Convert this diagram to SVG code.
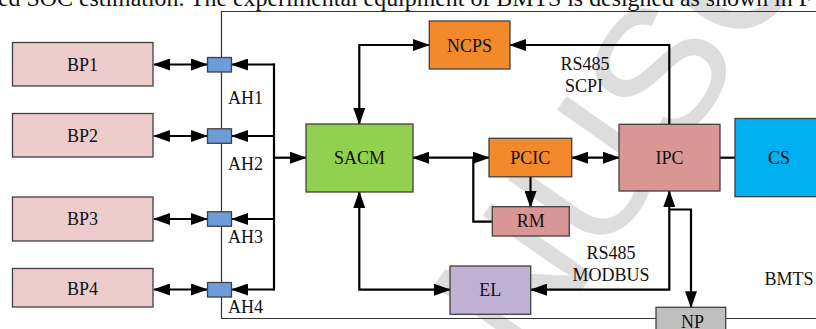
<svg xmlns="http://www.w3.org/2000/svg" width="816" height="329" viewBox="0 0 816 329">
<style>
text{font-family:"Liberation Serif","Times New Roman",serif;font-size:18px;fill:#111}
.c{text-anchor:middle}
.box{stroke:#404040;stroke-width:1.3}
.ln{fill:none;stroke:#000;stroke-width:2.2}
.arr{marker-end:url(#ah)}
.darr{marker-start:url(#ah);marker-end:url(#ah)}
.wm{font-family:"Liberation Sans",Arial,sans-serif;font-size:180px;fill:#dddddd}
</style>
<defs>
<marker id="ah" markerUnits="userSpaceOnUse" markerWidth="17" markerHeight="12" refX="16" refY="6" orient="auto-start-reverse">
<path d="M0,0 L17,6 L0,12 z" fill="#000"/>
</marker>
</defs>
<rect width="816" height="329" fill="#fff"/>
<text class="wm" transform="translate(372,590) rotate(-55)">MANUSCRIPT</text>
<text x="-2" y="5.5" style="font-size:24px" textLength="814" lengthAdjust="spacingAndGlyphs">ed SOC estimation. The experimental equipment of BMTS is designed as shown in F</text>
<g id="BMTS">
<path d="M221.5,318.5 V11.5 H817 M221.5,318.5 H817" fill="none" stroke="#333" stroke-width="1.2"/>
<text x="789" y="285" class="c">BMTS</text>
</g>
<g id="connectors">
<path class="ln darr" d="M154,64.5 H207"/>
<path class="ln darr" d="M154,136 H207"/>
<path class="ln darr" d="M154,219 H207"/>
<path class="ln darr" d="M154,289.5 H207"/>
<path class="ln" d="M274,63.4 V290.6"/>
<path class="ln arr" d="M274,64.5 H232"/>
<path class="ln arr" d="M274,136 H232"/>
<path class="ln arr" d="M274,219 H232"/>
<path class="ln arr" d="M274,289.5 H232"/>
<path class="ln arr" d="M274,157.7 H306"/>
<path class="ln darr" d="M429,45 H359.3 V124"/>
<path class="ln arr" d="M669.3,124 V45 H510"/>
<path class="ln darr" d="M413,157.7 H489"/>
<path class="ln" d="M492,221.7 H473.3 V157.7"/>
<path class="ln arr" d="M530.5,177 V207"/>
<path class="ln darr" d="M572,157.7 H619"/>
<path class="ln" d="M720,157.7 H735"/>
<path class="ln darr" d="M669.3,191 V289.7 H531"/>
<path class="ln arr" d="M669.3,209.5 H691 V307.3"/>
<path class="ln darr" d="M359.3,192 V289.7 H450"/>
</g>
<g id="BP1"><rect class="box" x="12.5" y="42.5" width="140.5" height="43.5" fill="#EDCCCB"/><text x="82.5" y="70.5" class="c">BP1</text></g>
<g id="BP2"><rect class="box" x="12.5" y="113.5" width="140.5" height="43.5" fill="#EDCCCB"/><text x="82.5" y="141.5" class="c">BP2</text></g>
<g id="BP3"><rect class="box" x="12.5" y="197" width="140.5" height="44" fill="#EDCCCB"/><text x="82.5" y="224.5" class="c">BP3</text></g>
<g id="BP4"><rect class="box" x="12.5" y="268.5" width="140.5" height="38.5" fill="#EDCCCB"/><text x="82.5" y="295" class="c">BP4</text></g>
<g id="AH1"><rect class="box" x="207.5" y="57.5" width="24" height="14.5" fill="#6D9CDA" stroke="#243650"/><text x="228" y="104">AH1</text></g>
<g id="AH2"><rect class="box" x="207.5" y="128.8" width="24" height="14.5" fill="#6D9CDA" stroke="#243650"/><text x="228" y="170">AH2</text></g>
<g id="AH3"><rect class="box" x="207.5" y="211.8" width="24" height="14.5" fill="#6D9CDA" stroke="#243650"/><text x="228" y="242.5">AH3</text></g>
<g id="AH4"><rect class="box" x="207.5" y="282.5" width="24" height="14.5" fill="#6D9CDA" stroke="#243650"/><text x="228" y="313">AH4</text></g>
<g id="SACM"><rect class="box" x="306" y="124" width="107" height="68" fill="#92D050"/><text x="359.5" y="164" class="c">SACM</text></g>
<g id="NCPS"><rect class="box" x="429.3" y="21" width="80.7" height="48" fill="#F2892A"/><text x="469.5" y="51.7" class="c">NCPS</text></g>
<g id="PCIC"><rect class="box" x="489" y="138.3" width="82.7" height="38.5" fill="#F2892A"/><text x="530.3" y="164" class="c">PCIC</text></g>
<g id="RM"><rect class="box" x="492.3" y="206.7" width="77" height="29.3" fill="#DA9694"/><text x="530.8" y="227.3" class="c">RM</text></g>
<g id="EL"><rect class="box" x="450" y="266" width="80.7" height="48.3" fill="#C0B2D5"/><text x="490.3" y="296" class="c">EL</text></g>
<g id="IPC"><rect class="box" x="619" y="124.3" width="101" height="66.7" fill="#DA9694"/><text x="669.5" y="164" class="c">IPC</text></g>
<g id="CS"><rect class="box" x="735" y="118.5" width="88" height="78.2" fill="#00B0F0"/><text x="779" y="164" class="c">CS</text></g>
<g id="NP"><rect class="box" x="656" y="307.3" width="69.7" height="30" fill="#BFBFBF"/><text x="692.5" y="327.5" class="c">NP</text></g>
<g id="labels">
<text x="585" y="70" class="c">RS485</text>
<text x="584" y="91.5" class="c">SCPI</text>
<text x="611" y="259.3" class="c">RS485</text>
<text x="611" y="281" class="c">MODBUS</text>
</g>
</svg>
